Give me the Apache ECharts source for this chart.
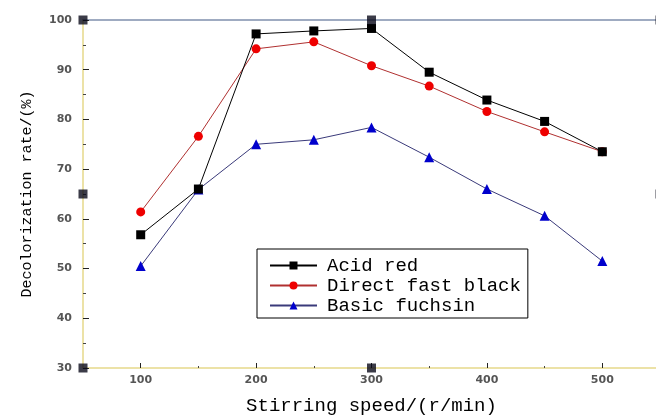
<!DOCTYPE html>
<html>
<head>
<meta charset="utf-8">
<script src="https://cdn.jsdelivr.net/npm/echarts@6/dist/echarts.min.js"></script>
<style>
  html, body { margin: 0; padding: 0; background: #ffffff; }
  #chart { width: 656px; height: 415px; }
</style>
</head>
<body>
<div id="chart"></div>
<script>
// Stirring speed (r/min)
const speeds = [100, 150, 200, 250, 300, 350, 400, 450, 500];

// Decolorization rate (%) per dye
const acidRed = [56.8, 66.0, 97.2, 97.8, 98.3, 89.5, 83.9, 79.6, 73.5];
const directFastBlack = [61.4, 76.6, 94.2, 95.6, 90.8, 86.7, 81.6, 77.5, 73.5];
const basicFuchsin = [50.5, 65.9, 75.0, 75.9, 78.4, 72.4, 66.0, 60.6, 51.5];

// Labelled (major) and unlabelled (minor) ticks on the speed axis
const xMajorTicks = [100, 200, 300, 400, 500];
const xMinorTicks = [150, 250, 350, 450];

// Square anchor markers sitting on the frame
const frameMarkers = [[50, 100], [50, 65], [50, 30], [300, 30], [300, 100], [550, 100], [550, 65]];

const seriesNames = ['Acid red', 'Direct fast black', 'Basic fuchsin'];

const pairs = ys => speeds.map((x, i) => [x, ys[i]]);

const chart = echarts.init(document.getElementById('chart'));

const monoFont = 'Liberation Mono';
const tickFont = 'DejaVu Sans';
const xMin = 50, xMax = 550;

chart.setOption({
  backgroundColor: '#ffffff',
  animation: false,
  grid: { left: 83, right: -4, top: 20, bottom: 47, outerBoundsMode: 'none', containLabel: false },
  legend: {
    data: seriesNames,
    orient: 'vertical',
    left: 257,
    top: 249,
    itemWidth: 47,
    itemHeight: 10,
    itemGap: 1,
    padding: [7, 7, 3, 12],
    backgroundColor: '#ffffff',
    borderColor: '#000000',
    borderWidth: 1,
    borderRadius: 0,
    textStyle: { fontFamily: monoFont, fontSize: 19, color: '#000000', padding: [0, 0, 0, 5] }
  },
  xAxis: [{
    type: 'value',
    min: xMin,
    max: xMax,
    interval: 50,
    name: 'Stirring speed/(r/min)',
    nameLocation: 'middle',
    nameGap: 28,
    nameTextStyle: { fontFamily: monoFont, fontSize: 19, color: '#000000' },
    axisLine: { show: true, onZero: false, lineStyle: { color: '#e6d98a', width: 1.5 } },
    axisTick: { show: true, inside: true, length: 5, customValues: xMajorTicks, lineStyle: { color: '#222222' } },
    axisLabel: {
      margin: 7,
      formatter: v => (xMajorTicks.includes(v) ? String(v) : ''),
      fontFamily: tickFont,
      fontSize: 11,
      fontWeight: 'bold',
      color: '#555555'
    },
    splitLine: { show: false }
  }, {
    // minor tick dots between the labelled speeds
    type: 'value',
    position: 'bottom',
    min: xMin,
    max: xMax,
    axisLine: { show: false, onZero: false },
    axisTick: { show: true, inside: true, length: 2, customValues: xMinorTicks, lineStyle: { color: '#444444' } },
    axisLabel: { show: false },
    splitLine: { show: false }
  }, {
    // top frame line
    type: 'value',
    position: 'top',
    min: xMin,
    max: xMax,
    axisLine: { show: true, onZero: false, lineStyle: { color: '#8090ad', width: 1.5 } },
    axisTick: { show: false },
    axisLabel: { show: false },
    splitLine: { show: false }
  }],
  yAxis: {
    type: 'value',
    min: 30,
    max: 100,
    interval: 10,
    name: 'Decolorization rate/(%)',
    nameLocation: 'middle',
    nameGap: 48,
    nameTextStyle: { fontFamily: monoFont, fontSize: 15, color: '#000000' },
    axisLine: { show: true, onZero: false, lineStyle: { color: '#e6d98a', width: 1.5 } },
    axisTick: { show: true, inside: true, length: 6, lineStyle: { color: '#222222' } },
    minorTick: { show: true, splitNumber: 2, length: 3, lineStyle: { color: '#444444' } },
    axisLabel: {
      margin: 11,
      fontFamily: tickFont,
      fontSize: 11,
      fontWeight: 'bold',
      color: '#555555'
    },
    splitLine: { show: false }
  },
  series: [
    {
      name: seriesNames[0],
      type: 'line',
      data: pairs(acidRed),
      symbol: 'rect',
      symbolSize: 9,
      lineStyle: { color: '#000000', width: 1 },
      itemStyle: { color: '#000000' },
      z: 4
    },
    {
      name: seriesNames[1],
      type: 'line',
      data: pairs(directFastBlack),
      symbol: 'circle',
      symbolSize: 9,
      lineStyle: { color: '#b03030', width: 1 },
      itemStyle: { color: '#ee0000' },
      z: 3
    },
    {
      name: seriesNames[2],
      type: 'line',
      data: pairs(basicFuchsin),
      symbol: 'triangle',
      symbolSize: 10,
      lineStyle: { color: '#3a3a7a', width: 1 },
      itemStyle: { color: '#0000cc' },
      z: 3
    },
    {
      name: 'frame',
      type: 'scatter',
      data: frameMarkers,
      symbol: 'rect',
      symbolSize: 9,
      itemStyle: { color: '#0a0a1a' },
      silent: true,
      z: 5
    }
  ]
});
</script>
</body>
</html>
